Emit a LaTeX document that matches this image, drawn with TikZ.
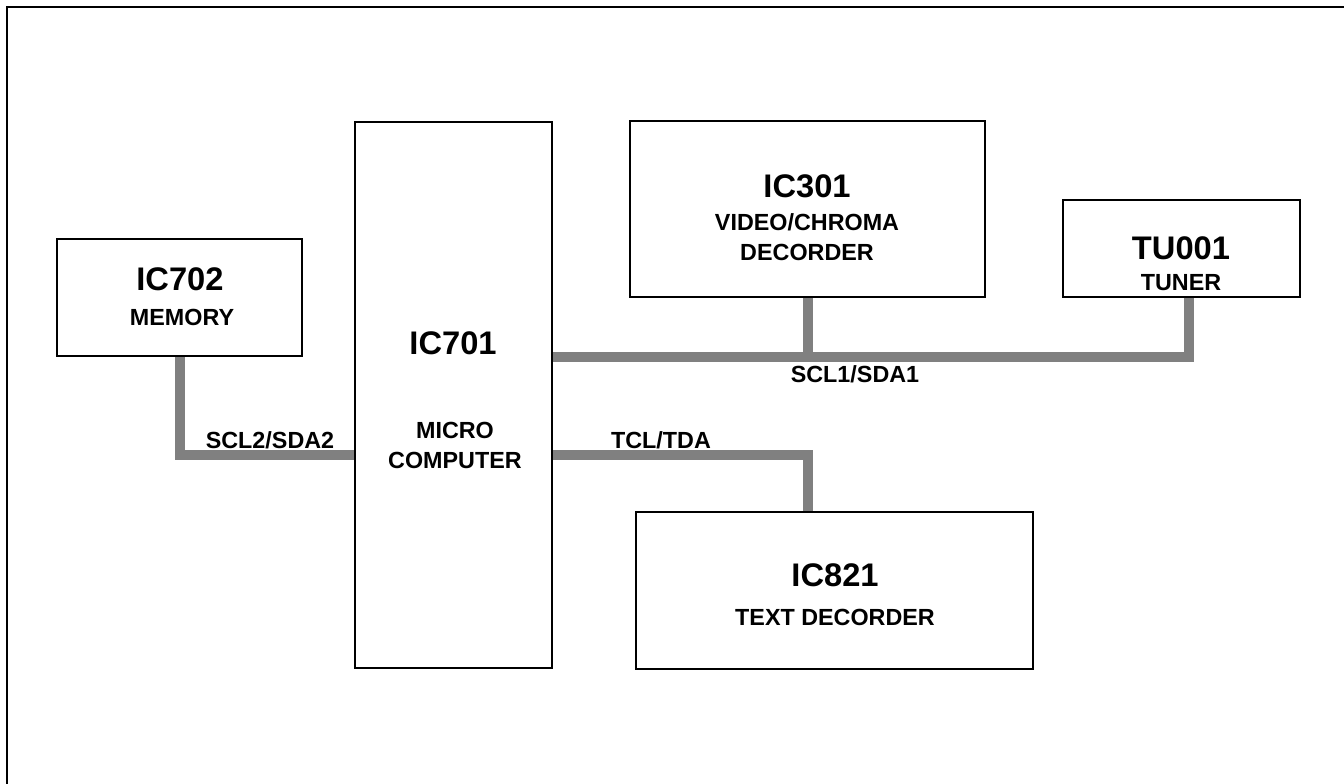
\documentclass[tikz,border=0pt]{standalone}
\usepackage{fontspec}
\setmainfont{Liberation Sans}
\definecolor{busgray}{HTML}{808080}
\pgfdeclarelayer{bg}
\pgfsetlayers{bg,main}
\begin{document}
\begin{tikzpicture}[x=0.75pt,y=-0.75pt,
  box/.style={draw=black,line width=1.9pt,fill=white,inner sep=0pt},
  big/.style={font=\fontsize{24.5}{28}\selectfont\bfseries,inner sep=0pt},
  small/.style={font=\fontsize{17.5}{20}\selectfont\bfseries,inner sep=0pt},
  bus/.style={draw=busgray,line width=7.5pt}]
\useasboundingbox (0,0) rectangle (1344,784);
% frame
\draw[line width=2.2pt] (7,784) -- (7,7) -- (1344,7);
% boxes
\node[box,minimum width=183.75pt,minimum height=87.75pt] (ic702) at (179.5,297.5) {};
\node[box,minimum width=147.75pt,minimum height=409.5pt] (ic701) at (453.5,395) {};
\node[box,minimum width=266.25pt,minimum height=132pt] (ic301) at (807.5,209) {};
\node[box,minimum width=177.75pt,minimum height=72.75pt] (tu001) at (1181.5,248.5) {};
\node[box,minimum width=297.75pt,minimum height=117.75pt] (ic821) at (834.5,590.5) {};
% texts
\node[big] (t702) at (180,279) {IC702};
\node[small] (m702) at (182,317) {MEMORY};
\node[big] (t701) at (453,343) {IC701};
\node[small] (m701a) at (455,430) {MICRO};
\node[small] (m701b) at (455,460) {COMPUTER};
\node[big] (t301) at (807,186) {IC301};
\node[small] (m301a) at (807,222) {VIDEO/CHROMA};
\node[small] (m301b) at (807,252) {DECORDER};
\node[big] (ttu) at (1181,248) {TU001};
\node[small] (mtu) at (1181,283) {TUNER};
\node[big] (t821) at (835,575) {IC821};
\node[small] (m821) at (835,617) {TEXT DECORDER};
\node[small] (l2) at (270,440) {SCL2/SDA2};
\node[small] (l1) at (855,374) {SCL1/SDA1};
\node[small] (l3) at (661,440) {TCL/TDA};
% buses
\coordinate (upbus) at (0,357);
\coordinate (lowbus) at (0,455);
\coordinate (tustub) at (1189,297);
\begin{pgfonlayer}{bg}
\draw[bus] (ic702.south) |- (ic701.west |- lowbus);
\draw[bus] (ic701.east |- upbus) -| (tustub);
\draw[bus] (ic301.south) -- (ic301.south |- upbus);
\draw[bus] (ic701.east |- lowbus) -| (ic301.south |- ic821.north);
\end{pgfonlayer}
\end{tikzpicture}
\end{document}
